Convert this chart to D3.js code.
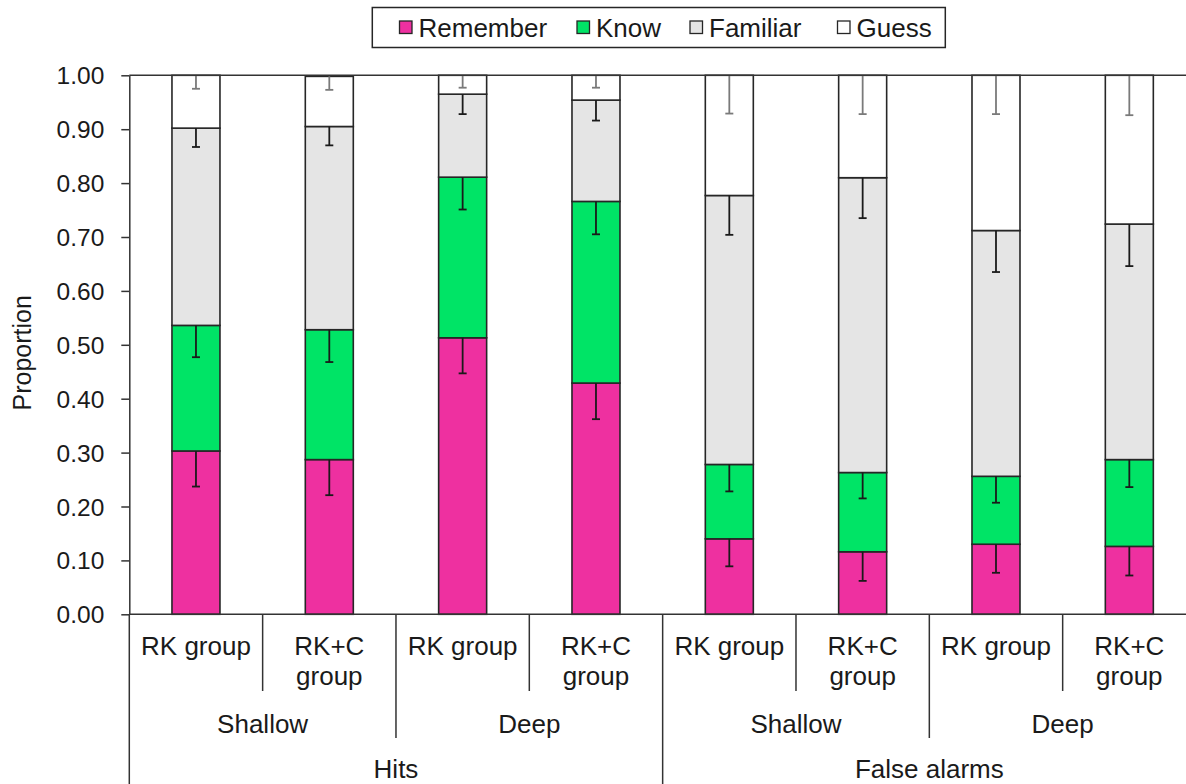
<!DOCTYPE html>
<html lang="en">
  <head>
    <meta charset="UTF-8" />
    <title>Remember / Know / Familiar / Guess proportions</title>
    <script src="https://d3js.org/d3.v7.min.js"></script>
    <style>
      body {
        margin: 0;
        background: #fff;
      }
      svg {
        display: block;
        font-family: "Liberation Sans", Arial, sans-serif;
      }
      .seg {
        stroke: #262626;
        stroke-width: 1.6px;
      }
      .err {
        stroke-width: 1.8px;
      }
      .axis path,
      .axis line {
        stroke: #333;
        stroke-width: 1.5px;
      }
      .axis text {
        font-size: 24.5px;
        fill: #1a1a1a;
      }
      .cat {
        font-size: 26px;
        fill: #1a1a1a;
        text-anchor: middle;
      }
      .sep {
        stroke: #333;
        stroke-width: 1.5px;
      }
    </style>
  </head>
  <body>
    <svg width="1186" height="784"></svg>

    <script>
      // categories
      const responseTypes = ["Hits", "False alarms"];
      const depths = ["Shallow", "Deep"];
      const groups = ["RK group", "RK+C group"];
      const series = ["Remember", "Know", "Familiar", "Guess"];

      // segment heights per bar (Hits S-RK, S-RKC, D-RK, D-RKC, FA S-RK, S-RKC, D-RK, D-RKC)
      const remember = [0.303, 0.287, 0.513, 0.429, 0.14, 0.116, 0.13, 0.126];
      const know = [0.233, 0.241, 0.298, 0.337, 0.138, 0.147, 0.126, 0.161];
      const familiar = [0.366, 0.377, 0.154, 0.188, 0.499, 0.547, 0.456, 0.437];
      const guess = [0.098, 0.093, 0.035, 0.046, 0.223, 0.19, 0.288, 0.276];

      // error bars (drawn downward from the top of each segment)
      const rememberErr = [0.066, 0.066, 0.066, 0.067, 0.051, 0.054, 0.053, 0.054];
      const knowErr = [0.059, 0.06, 0.06, 0.061, 0.05, 0.048, 0.049, 0.051];
      const familiarErr = [0.035, 0.035, 0.037, 0.038, 0.073, 0.075, 0.077, 0.078];
      const guessErr = [0.025, 0.025, 0.023, 0.023, 0.071, 0.072, 0.072, 0.074];

      const yTicks = [0, 0.1, 0.2, 0.3, 0.4, 0.5, 0.6, 0.7, 0.8, 0.9, 1.0];

      const colors = {
        Remember: "#ee30a0",
        Know: "#00e466",
        Familiar: "#e5e5e5",
        Guess: "#ffffff",
      };
      const errColors = {
        Remember: "#1a1a1a",
        Know: "#1a1a1a",
        Familiar: "#1a1a1a",
        Guess: "#7a7a7a",
      };

      const values = { Remember: remember, Know: know, Familiar: familiar, Guess: guess };
      const errors = {
        Remember: rememberErr,
        Know: knowErr,
        Familiar: familiarErr,
        Guess: guessErr,
      };

      // one row per bar
      const rows = [];
      responseTypes.forEach((r) =>
        depths.forEach((d) =>
          groups.forEach((g) => {
            const i = rows.length;
            const row = { id: `${r}|${d}|${g}`, response: r, depth: d, group: g, i };
            series.forEach((s) => (row[s] = values[s][i]));
            rows.push(row);
          })
        )
      );

      const svg = d3.select("svg");
      const plotLeft = 129.3;
      const plotRight = 1196;
      const plotTop = 75.3;
      const plotBottom = 614.3;

      const x = d3
        .scaleBand()
        .domain(rows.map((d) => d.id))
        .range([plotLeft, plotRight])
        .paddingInner(0.64)
        .paddingOuter(0.32);

      const y = d3.scaleLinear().domain([0, 1]).range([plotBottom, plotTop]);

      const stacked = d3.stack().keys(series)(rows);

      // bars
      const layer = svg
        .append("g")
        .selectAll("g")
        .data(stacked)
        .join("g")
        .attr("fill", (d) => colors[d.key]);

      layer
        .selectAll("rect")
        .data((d) => d)
        .join("rect")
        .attr("class", "seg")
        .attr("x", (d) => x(d.data.id))
        .attr("width", x.bandwidth())
        .attr("y", (d) => y(d[1]))
        .attr("height", (d) => y(d[0]) - y(d[1]));

      // error bars
      const capW = 8;
      stacked.forEach((s) => {
        const g = svg
          .append("g")
          .attr("class", "err")
          .attr("stroke", errColors[s.key]);
        s.forEach((d) => {
          const cx = x(d.data.id) + x.bandwidth() / 2;
          const y1 = y(d[1]);
          const y2 = y(d[1] - errors[s.key][d.data.i]);
          g.append("line").attr("x1", cx).attr("x2", cx).attr("y1", y1).attr("y2", y2);
          g.append("line")
            .attr("x1", cx - capW / 2)
            .attr("x2", cx + capW / 2)
            .attr("y1", y2)
            .attr("y2", y2);
        });
      });

      // top border line
      svg
        .append("line")
        .attr("class", "sep")
        .attr("x1", plotLeft)
        .attr("x2", plotRight)
        .attr("y1", y(1))
        .attr("y2", y(1));

      // y axis
      const yAxis = svg
        .append("g")
        .attr("class", "axis")
        .attr("transform", `translate(${plotLeft},0)`)
        .call(
          d3
            .axisLeft(y)
            .tickValues(yTicks)
            .tickFormat(d3.format(".2f"))
            .tickSize(8)
            .tickSizeOuter(0)
            .tickPadding(17)
        );
      yAxis.selectAll("text").attr("dy", "0.35em");

      svg
        .append("text")
        .attr("class", "cat")
        .attr("transform", `translate(31,${(plotTop + plotBottom) / 2 + 8}) rotate(-90)`)
        .style("font-size", "25px")
        .text("Proportion");

      // x baseline
      svg
        .append("line")
        .attr("class", "sep")
        .attr("x1", plotLeft)
        .attr("x2", plotRight)
        .attr("y1", plotBottom)
        .attr("y2", plotBottom);

      // multi-level category axis
      const step = x.step();
      const edge = (d) => x(d.id) - (step - x.bandwidth()) / 2;

      rows.forEach((d, i) => {
        const x0 = edge(d);
        let y2 = null;
        if (i % 4 === 0) y2 = 784;
        else if (i % 2 === 0) y2 = 738;
        else y2 = 691;
        svg
          .append("line")
          .attr("class", "sep")
          .attr("x1", x0)
          .attr("x2", x0)
          .attr("y1", plotBottom)
          .attr("y2", y2);

        const cx = x0 + step / 2;
        const words = d.group === "RK group" ? ["RK group"] : ["RK+C", "group"];
        words.forEach((w, k) => {
          svg
            .append("text")
            .attr("class", "cat")
            .attr("x", cx)
            .attr("y", 655 + k * 30)
            .text(w);
        });
      });

      // depth labels
      d3.groups(rows, (d) => d.response + "|" + d.depth).forEach(([key, list]) => {
        const x0 = edge(list[0]);
        const x1 = edge(list[list.length - 1]) + step;
        svg
          .append("text")
          .attr("class", "cat")
          .attr("x", (x0 + x1) / 2)
          .attr("y", 733)
          .text(list[0].depth);
      });

      // response labels
      d3.groups(rows, (d) => d.response).forEach(([key, list]) => {
        const x0 = edge(list[0]);
        const x1 = edge(list[list.length - 1]) + step;
        svg
          .append("text")
          .attr("class", "cat")
          .attr("x", (x0 + x1) / 2)
          .attr("y", 778)
          .text(key);
      });

      // legend
      const legend = svg.append("g");
      legend
        .append("rect")
        .attr("x", 372.3)
        .attr("y", 7.5)
        .attr("width", 573)
        .attr("height", 40)
        .attr("fill", "#fff")
        .attr("stroke", "#262626")
        .attr("stroke-width", 1.5);

      const legendX = [399.5, 577, 690, 837.5];
      series.forEach((s, i) => {
        legend
          .append("rect")
          .attr("x", legendX[i])
          .attr("y", 21)
          .attr("width", 12.5)
          .attr("height", 12.5)
          .attr("fill", colors[s])
          .attr("stroke", "#262626")
          .attr("stroke-width", 1.3);
        legend
          .append("text")
          .attr("x", legendX[i] + 19)
          .attr("y", 36.5)
          .style("font-size", "26px")
          .attr("fill", "#1a1a1a")
          .text(s);
      });
    </script>
  </body>
</html>
